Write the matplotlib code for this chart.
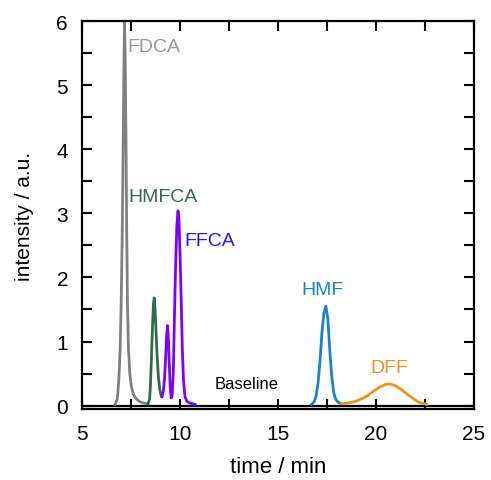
import matplotlib.pyplot as plt
from matplotlib.ticker import MultipleLocator

plt.rcParams['font.family'] = ['Liberation Sans', 'DejaVu Sans']

# chromatogram traces (time / min, intensity / a.u.)
fdca_t = [6.68, 6.80, 6.88, 6.95, 7.00, 7.05, 7.10, 7.14, 7.17, 7.20, 7.24, 7.28,
          7.32, 7.37, 7.44, 7.52, 7.62, 7.75, 7.95, 8.15, 8.37]
fdca_i = [0.02, 0.10, 0.40, 0.90, 1.60, 2.60, 4.00, 5.30, 6.00, 5.50, 4.30, 2.80,
          1.60, 0.90, 0.50, 0.30, 0.18, 0.11, 0.06, 0.04, 0.03]

hmfca_t = [8.37, 8.45, 8.50, 8.55, 8.60, 8.65, 8.69, 8.73, 8.78, 8.83, 8.90, 8.97, 9.05, 9.08]
hmfca_i = [0.03, 0.10, 0.35, 0.80, 1.25, 1.60, 1.68, 1.50, 1.15, 0.80, 0.45, 0.25, 0.15, 0.14]

ffca_t = [9.08, 9.15, 9.22, 9.27, 9.32, 9.37, 9.41, 9.45, 9.50, 9.55, 9.60, 9.66,
          9.72, 9.78, 9.84, 9.90, 9.95, 10.00, 10.06, 10.12, 10.18, 10.25, 10.35,
          10.50, 10.77]
ffca_i = [0.14, 0.22, 0.45, 0.75, 1.10, 1.25, 1.05, 0.70, 0.30, 0.12, 0.15, 0.50,
          1.40, 2.20, 2.80, 3.04, 2.90, 2.40, 1.70, 0.90, 0.40, 0.15, 0.07,
          0.04, 0.02]

hmf_t = [16.72, 16.85, 16.95, 17.05, 17.15, 17.25, 17.35, 17.45, 17.55, 17.65,
         17.75, 17.85, 17.95, 18.08, 18.25]
hmf_i = [0.02, 0.06, 0.15, 0.35, 0.70, 1.15, 1.45, 1.55, 1.35, 0.85,
         0.45, 0.20, 0.10, 0.05, 0.03]

dff_t = [18.25, 18.6, 19.0, 19.3, 19.6, 19.9, 20.2, 20.5, 20.7, 21.0, 21.3, 21.6,
         21.9, 22.2, 22.58]
dff_i = [0.03, 0.04, 0.07, 0.11, 0.16, 0.23, 0.29, 0.33, 0.34, 0.31, 0.25, 0.18,
         0.11, 0.05, 0.02]

base_t = [5, 25]
base_i = [0.0, 0.0]

fig = plt.figure(figsize=(4.91, 4.81), dpi=100)
ax = fig.add_axes([0.167, 0.148, 0.798, 0.806])

lw = 2.0
ax.plot(base_t, base_i, color='black', lw=1.6)
ax.plot(fdca_t, fdca_i, color='#808080', lw=lw)
ax.plot(hmfca_t, hmfca_i, color='#2f6b46', lw=lw)
ax.plot(ffca_t, ffca_i, color='#8000ff', lw=lw)
ax.plot(hmf_t, hmf_i, color='#1a84c7', lw=lw)
ax.plot(dff_t, dff_i, color='#ee9220', lw=lw)

ax.text(7.3, 5.6, 'FDCA', color='#999999', fontsize=14, va='center')
ax.text(7.35, 3.26, 'HMFCA', color='#2f6b46', fontsize=14, va='center')
ax.text(10.25, 2.58, 'FFCA', color='#1a1aff', fontsize=14, va='center')
ax.text(16.2, 1.81, 'HMF', color='#1a84c7', fontsize=14, va='center')
ax.text(19.7, 0.6, 'DFF', color='#ee9220', fontsize=14, va='center')
ax.text(11.75, 0.35, 'Baseline', color='black', fontsize=12, va='center')

ax.set_xlim(5, 25)
ax.set_ylim(-0.05, 6)
ax.xaxis.set_major_locator(MultipleLocator(5))
ax.xaxis.set_minor_locator(MultipleLocator(2.5))
ax.yaxis.set_major_locator(MultipleLocator(1))
ax.yaxis.set_minor_locator(MultipleLocator(0.5))
ax.tick_params(which='both', direction='in', top=True, right=True,
               length=7, width=1.5, labelsize=15)
ax.tick_params(axis='x', pad=11)
ax.tick_params(axis='y', pad=10)
for s in ax.spines.values():
    s.set_linewidth(1.6)

ax.set_xlabel('time / min', fontsize=16, labelpad=9)
ax.set_ylabel('intensity / a.u.', fontsize=15, labelpad=16)

plt.savefig('out.png', dpi=100)
